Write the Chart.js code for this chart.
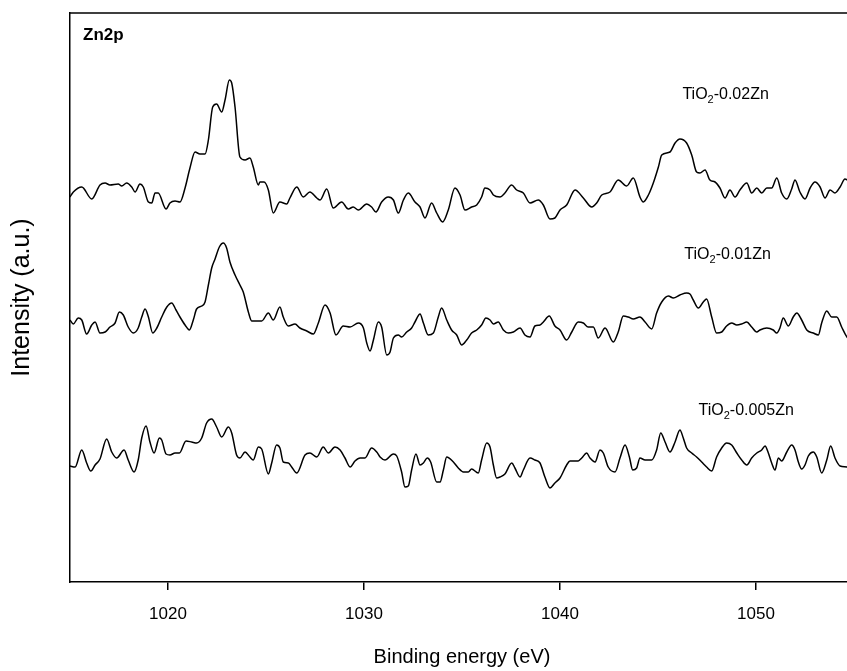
<!DOCTYPE html>
<html>
<head>
<meta charset="utf-8">
<script src="https://cdn.jsdelivr.net/npm/chart.js@4.4.0/dist/chart.umd.min.js"></script>
<style>
  html, body { margin: 0; padding: 0; background: #fff; overflow: hidden; }
  #wrap { width: 860px; height: 671px; }
</style>
</head>
<body>
<div id="wrap"><canvas id="xps" width="860" height="671"></canvas></div>
<script>
// Zn2p XPS spectra (intensity in arbitrary units)
const tickValues = [1020, 1030, 1040, 1050];

const eV_002 = [
  1015.00,1015.17,1015.60,1016.11,1016.53,1016.79,1017.04,1017.46,1017.64,1017.89,
  1018.15,1018.32,1018.57,1018.74,1019.00,1019.17,1019.34,1019.50,1019.90,1020.10,
  1020.36,1020.61,1020.87,1021.12,1021.38,1021.63,1021.89,1022.06,1022.28,1022.48,
  1022.74,1022.91,1023.13,1023.25,1023.42,1023.67,1023.93,1024.18,1024.35,1024.61,
  1024.69,1024.90,1025.12,1025.37,1025.71,1026.06,1026.22,1026.57,1026.90,1027.24,
  1027.59,1027.76,1028.10,1028.43,1028.86,1029.20,1029.45,1029.71,
  1030.14,1030.39,1030.61,1030.90,1031.24,1031.50,1031.75,1032.01,1032.26,1032.60,1032.86,1033.11,
  1033.45,1033.71,1034.01,1034.30,1034.64,1034.90,1035.15,1035.49,1035.75,1036.00,
  1036.17,1036.43,1036.60,1036.94,1037.19,1037.53,1037.79,1038.13,1038.47,1038.89,
  1039.15,1039.49,1039.74,1040.00,1040.34,1040.77,1041.19,1041.62,1041.87,1042.13,
  1042.55,1042.97,1043.40,1043.74,1044.08,
  1044.25,1044.51,1044.76,1045.02,1045.19,1045.61,1045.87,1046.12,1046.46,1046.72,
  1046.97,1047.14,1047.40,1047.65,1047.91,1048.16,1048.42,1048.67,1048.93,1049.18,
  1049.53,1049.78,1050.04,1050.29,1050.55,1050.80,1051.06,1051.31,1051.57,1051.82,
  1051.99,1052.24,1052.50,1052.76,1053.01,1053.27,1053.52,1053.78,1054.03,1054.29,1054.54,
  1054.90
];
const int_002 = [
  385,390,395,383,397,399,397,398,396,399,
  395,390,398,395,380,379,389,389,373,379,
  381,380,394,414,430,428,428,442,475,478,
  470,482,502,499,475,425,422,424,415,397,
  400,400,392,369,380,378,384,395,385,390,
  384,382,393,374,380,373,375,372,
  378,375,370,380,385,382,369,382,389,380,375,364,
  379,369,360,372,394,387,372,375,377,385,
  394,392,387,385,389,397,392,389,379,382,
  377,363,364,372,377,392,384,375,379,387,
  390,402,396,404,385,
  380,387,399,415,427,430,439,443,439,427,
  410,409,412,402,400,394,384,392,385,392,
  399,389,394,389,394,394,404,389,383,393,
  402,390,383,394,400,395,384,392,389,395,403,
  398
];

const eV_001 = [
  1015.00,1015.17,1015.42,1015.60,1015.85,1016.11,1016.28,1016.53,1016.79,1017.04,
  1017.30,1017.52,1017.72,1017.97,1018.23,1018.48,1018.66,1018.83,1019.00,1019.22,
  1019.43,1019.68,1019.94,1020.19,1020.41,1020.61,1020.87,1021.09,1021.29,1021.46,
  1021.72,1021.89,1022.06,1022.23,1022.40,1022.62,1022.82,1022.99,1023.16,1023.42,
  1023.67,1023.84,1024.10,1024.27,1024.53,1024.78,1025.12,1025.37,1025.71,1025.88,
  1026.14,1026.48,1026.73,1027.08,1027.42,1027.67,1028.01,1028.27,1028.57,1028.94,1029.29,1029.71,
  1029.97,1030.14,1030.31,1030.48,1030.73,1030.90,1031.16,1031.33,
  1031.50,1031.75,1031.92,1032.18,1032.43,1032.60,1032.86,1033.03,1033.28,1033.54,
  1033.79,1033.96,1034.22,1034.47,1034.73,1034.98,1035.24,1035.49,1035.75,1036.00,
  1036.22,1036.43,1036.60,1036.85,1037.11,1037.36,1037.62,1037.96,1038.21,1038.47,
  1038.72,1038.98,1039.15,1039.45,1039.74,1040.00,1040.34,1040.60,1040.93,1041.19,
  1041.44,1041.70,1041.95,1042.30,1042.72,1042.97,1043.23,1043.48,1043.74,1044.08,
  1044.34,1044.68,1044.93,1045.19,1045.53,1045.78,1046.12,1046.46,1046.63,1046.80,
  1047.06,1047.31,1047.48,1047.74,1047.99,1048.25,1048.50,1048.76,1049.02,1049.27,
  1049.53,1049.78,1050.04,1050.20,1050.55,1050.88,1051.06,1051.22,1051.39,1051.65,
  1051.90,1052.08,1052.33,1052.59,1052.92,1053.18,1053.35,1053.61,1053.86,1054.12,
  1054.37,1054.64,1054.90
];
const int_001 = [
  262,258,264,262,248,257,260,249,250,255,
  259,270,267,255,249,254,265,273,265,249,
  254,265,275,279,272,265,257,252,262,273,
  276,280,297,314,323,335,339,334,320,307,
  297,290,270,261,261,261,269,262,275,265,
  256,258,254,251,248,259,277,269,247,256,255,259,
  254,239,231,242,260,255,227,230,
  244,247,245,250,254,260,268,259,247,249,
  265,274,262,252,247,237,242,249,252,257,
  264,262,258,260,252,249,250,254,247,245,
  256,257,260,266,256,252,242,250,260,259,
  255,255,244,254,240,250,266,265,263,265,
  260,253,269,280,286,284,287,289,288,282,
  274,280,283,265,249,250,256,259,257,258,
  260,255,250,252,254,252,249,254,264,256,
  265,269,262,252,249,247,259,271,265,265,
  255,245,240
];

const eV_0005 = [
  1015.00,1015.26,1015.60,1015.85,1016.06,1016.28,1016.53,1016.87,1017.13,1017.38,
  1017.76,1017.97,1018.27,1018.48,1018.66,1018.88,1019.08,1019.29,1019.56,1019.68,
  1019.90,1020.10,1020.36,1020.58,1020.92,1021.21,1021.46,1021.72,1021.97,1022.23,
  1022.48,1022.74,1023.08,1023.25,1023.50,1023.67,1023.93,1024.18,1024.35,1024.61,
  1024.78,1025.12,1025.29,1025.54,1025.71,1025.88,1026.14,1026.31,1026.57,1026.99,
  1027.24,1027.59,1027.92,1028.18,1028.52,1028.78,1029.03,1029.29,1029.54,1029.80,
  1030.05,1030.39,1030.65,1030.82,1031.07,1031.50,1031.67,1031.92,1032.09,1032.26,
  1032.43,1032.65,1032.86,1033.03,1033.23,1033.40,1033.71,1033.88,1034.05,1034.22,
  1034.56,1034.81,1035.07,1035.32,1035.49,1035.83,1036.00,1036.26,1036.43,1036.60,
  1036.77,1036.94,1037.19,1037.54,1037.70,1037.96,1038.13,1038.47,1038.72,1038.98,
  1039.23,1039.49,1039.74,1040.00,1040.34,1040.51,1040.93,1041.11,1041.36,1041.53,
  1041.79,1042.04,1042.21,1042.46,1042.81,1043.06,1043.32,1043.54,1043.71,1043.91,1044.08,
  1044.34,1044.68,1044.93,1045.14,1045.36,1045.61,1045.87,1046.12,1046.29,1046.46,
  1046.72,1046.97,1047.23,1047.48,1047.74,1047.99,1048.25,1048.50,1048.76,1049.02,
  1049.27,1049.53,1049.78,1050.04,1050.29,1050.46,1050.63,1050.80,1050.97,1051.14,
  1051.31,1051.57,1051.82,1051.99,1052.16,1052.33,1052.50,1052.67,1052.92,1053.10,
  1053.35,1053.61,1053.81,1054.03,1054.29,1054.64,1054.90
];
const int_0005 = [
  116,115,132,119,111,117,123,143,130,124,
  132,122,110,122,144,156,140,129,144,142,
  128,127,129,129,141,140,139,144,159,163,
  155,145,155,149,127,124,130,125,122,135,
  133,108,119,137,134,120,119,115,109,127,
  129,125,135,129,135,132,124,115,121,124,
  124,134,130,125,122,128,126,110,95,96,
  112,128,117,119,124,120,100,100,112,125,
  120,114,110,110,113,109,122,139,135,117,
  104,105,108,119,114,105,112,124,122,119,
  105,94,99,104,117,121,121,124,129,124,
  120,132,129,115,110,124,137,125,112,114,124,
  122,122,132,149,140,130,140,152,144,134,
  129,125,120,115,111,125,134,139,137,129,
  122,117,124,129,132,136,129,119,112,124,
  121,130,137,132,120,113,117,126,130,125,
  109,122,136,124,116,115,112
];

// sample names and where their labels sit (data coords)
const sampleNames = ['0.02Zn', '0.01Zn', '0.005Zn'];
const labelAt = [[1048.45, 483], [1048.55, 323], [1049.5, 167]];

const FONT = '"Liberation Sans", Arial, sans-serif';

function toPoints(xs, ys) {
  return xs.map((x, i) => ({ x: x, y: ys[i] }));
}

function lineSet(xs, ys, name) {
  return {
    label: name,
    data: toPoints(xs, ys),
    borderColor: '#000',
    borderWidth: 1.5,
    pointRadius: 0,
    tension: 0.35,
    cubicInterpolationMode: 'monotone',
    fill: false
  };
}

// frame + text annotations
const decorations = {
  id: 'decorations',
  afterDraw(chart) {
    const { ctx, chartArea, scales } = chart;
    ctx.save();
    ctx.strokeStyle = '#000';
    ctx.lineWidth = 1.5;
    ctx.beginPath();
    ctx.moveTo(chartArea.left, chartArea.top);
    ctx.lineTo(chartArea.right, chartArea.top);
    ctx.lineTo(chartArea.right, chartArea.bottom);
    ctx.stroke();

    ctx.fillStyle = '#000';
    ctx.font = 'bold 17px ' + FONT;
    ctx.textBaseline = 'alphabetic';
    ctx.textAlign = 'left';
    ctx.fillText('Zn2p', chartArea.left + 13, chartArea.top + 27);

    sampleNames.forEach((nm, i) => {
      const cx = scales.x.getPixelForValue(labelAt[i][0]);
      const by = scales.y.getPixelForValue(labelAt[i][1]);
      const big = '16px ' + FONT, small = '11px ' + FONT;
      ctx.font = big;
      const w1 = ctx.measureText('TiO').width;
      const w3 = ctx.measureText('-' + nm).width;
      ctx.font = small;
      const w2 = ctx.measureText('2').width;
      let x = cx - (w1 + w2 + w3) / 2;
      ctx.font = big;
      ctx.fillText('TiO', x, by);
      x += w1;
      ctx.font = small;
      ctx.fillText('2', x, by + 4);
      x += w2;
      ctx.font = big;
      ctx.fillText('-' + nm, x, by);
    });
    ctx.restore();
  }
};

new Chart(document.getElementById('xps').getContext('2d'), {
  type: 'line',
  data: {
    datasets: [
      lineSet(eV_002, int_002, 'TiO2-0.02Zn'),
      lineSet(eV_001, int_001, 'TiO2-0.01Zn'),
      lineSet(eV_0005, int_0005, 'TiO2-0.005Zn')
    ]
  },
  options: {
    responsive: false,
    animation: false,
    devicePixelRatio: 1,
    layout: { padding: { top: 13, right: 6, left: 0, bottom: 0 } },
    plugins: { legend: { display: false }, tooltip: { enabled: false } },
    scales: {
      x: {
        type: 'linear',
        min: 1015,
        max: 1055,
        afterBuildTicks: axis => { axis.ticks = tickValues.map(v => ({ value: v })); },
        afterFit: s => { s.height = 89; },
        border: { display: true, color: '#000', width: 1.5 },
        grid: { display: true, drawOnChartArea: false, drawTicks: true, tickLength: 8, color: '#000', lineWidth: 1.5 },
        ticks: {
          color: '#000', font: { family: FONT, size: 17 }, padding: 14, maxRotation: 0,
          callback: v => String(v)
        },
        title: { display: true, text: 'Binding energy (eV)', color: '#000', font: { family: FONT, size: 20 }, padding: { top: 0, bottom: 2 } }
      },
      y: {
        min: 0,
        max: 569,
        afterFit: s => { s.width = 70; },
        border: { display: true, color: '#000', width: 1.5 },
        grid: { display: false },
        ticks: { display: false },
        title: { display: true, text: 'Intensity (a.u.)', color: '#000', font: { family: FONT, size: 25 }, padding: { top: 7, bottom: 0 } }
      }
    }
  },
  plugins: [decorations]
});
</script>
</body>
</html>
